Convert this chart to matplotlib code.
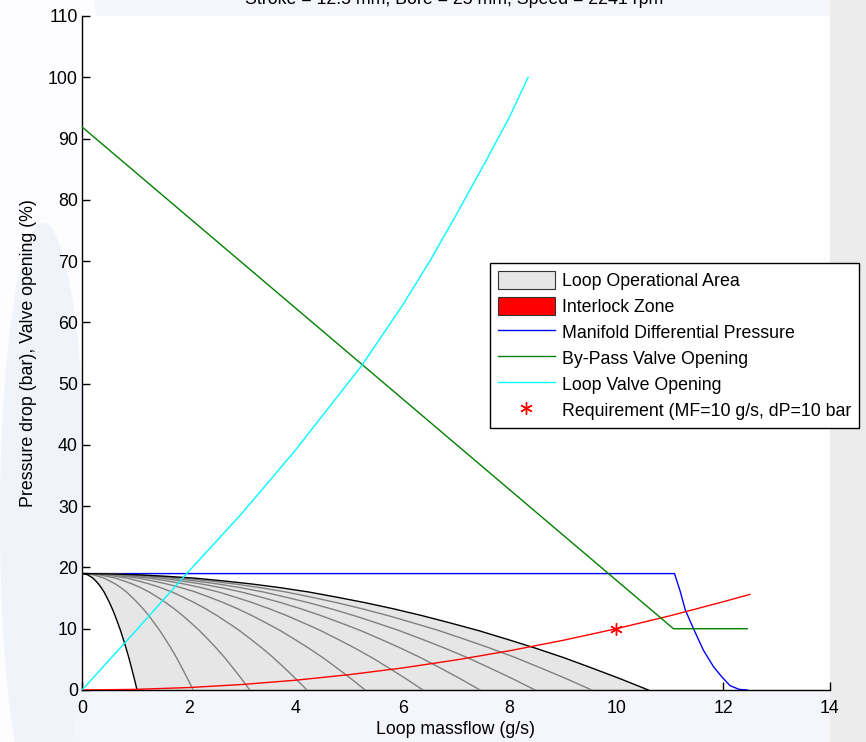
import numpy as np
import matplotlib
matplotlib.use("Agg")
from matplotlib import pyplot as plt
from matplotlib.patches import Patch, Rectangle, Ellipse
from matplotlib.lines import Line2D

plt.rcParams['font.family'] = ['Liberation Sans', 'DejaVu Sans']

# Data
# loop curves: massflow where each loop curve reaches dp = 0 (g/s)
loop_ends = [1.03, 2.08, 3.14, 4.21, 5.30, 6.38, 7.45, 8.48, 9.54, 10.6]
# shape of the outer loop curve (fraction of end massflow -> dp in bar)
shape_frac = [0, 0.05, 0.1, 0.15, 0.2, 0.25, 0.3, 0.35, 0.4, 0.45, 0.5,
              0.55, 0.6, 0.65, 0.7, 0.75, 0.8, 0.85, 0.9, 0.95, 1.0]
shape_dp = [19.0, 18.95, 18.8, 18.55, 18.25, 17.8, 17.3, 16.7, 16.0, 15.15, 14.25,
            13.25, 12.15, 10.95, 9.7, 8.3, 6.85, 5.3, 3.6, 1.85, 0.0]

# manifold differential pressure
mdp_x = [0, 11.09, 11.2, 11.29, 11.44, 11.63, 11.82, 11.97, 12.13, 12.3, 12.45]
mdp_y = [19.0, 19.0, 16.0, 13.1, 10.1, 6.5, 3.8, 2.2, 0.7, 0.1, 0.0]

# by-pass valve opening
bp_x = [0, 11.07, 12.45]
bp_y = [91.9, 10.0, 10.0]

# loop valve opening
lv_x = [0, 1.0, 1.96, 3.0, 4.0, 5.24, 6.0, 6.51, 7.0, 7.57, 8.0, 8.35]
lv_y = [0, 9.6, 19.0, 28.9, 39.2, 53.0, 62.8, 70.0, 77.5, 86.5, 93.5, 100.0]

# interlock zone boundary
il_x = [0, 1, 2, 3, 4, 5, 6, 7, 8, 9, 10, 11, 12, 12.5]
il_y = [0, 0.1, 0.4, 0.9, 1.6, 2.5, 3.6, 4.9, 6.4, 8.1, 10.0, 12.1, 14.4, 15.6]

# requirement
req_x = [10]
req_y = [10]

title = "Stroke = 12.5 mm, Bore = 25 mm, Speed = 2241 rpm"

W, H = 866, 742
FS = 12.8
fig = plt.figure(figsize=(W / 100, H / 100), dpi=100, facecolor='#f5f6fc')

# faint background decoration
fig.patches.append(Ellipse((0.03, 0.6), 0.2, 1.3, transform=fig.transFigure,
                           facecolor='#fdfdff', edgecolor='none', zorder=-5))
fig.patches.append(Ellipse((0.05, 0.3), 0.1, 0.8, transform=fig.transFigure,
                           facecolor='#f1f3fb', edgecolor='none', zorder=-4))
fig.patches.append(Rectangle((830 / W, 0), 36 / W, 1, transform=fig.transFigure,
                             facecolor='#ececec', edgecolor='none', zorder=-3))

ax = fig.add_axes([82 / W, 52 / H, 748 / W, 674 / H])
ax.set_facecolor('white')

# loop operational area
sf = np.array(shape_frac)
sd = np.array(shape_dp)
outer_x = sf * loop_ends[-1]
inner_x = sf * loop_ends[0]
poly_x = np.concatenate([outer_x, inner_x[::-1]])
poly_y = np.concatenate([sd, sd[::-1]])
ax.fill(poly_x, poly_y, facecolor='#e6e6e6', edgecolor='none', zorder=1)

ax.plot(mdp_x, mdp_y, color='#0000ff', lw=1.0, zorder=2)

for e in loop_ends[1:-1]:
    ax.plot(sf * e, sd, color='#808080', lw=1.0, zorder=3)
ax.plot(inner_x, sd, color='black', lw=1.0, zorder=3)
ax.plot(outer_x, sd, color='black', lw=1.0, zorder=3)

ax.plot(il_x, il_y, color='#ff0000', lw=1.0, zorder=4)
ax.plot(bp_x, bp_y, color='#008000', lw=1.0, zorder=4)
ax.plot(lv_x, lv_y, color='#00ffff', lw=1.0, zorder=4)
ax.plot(req_x, req_y, linestyle='none', marker=(6, 2, 0), markersize=9,
        color='#ff0000', markeredgewidth=1.0, zorder=5)

ax.set_xlim(0, 14)
ax.set_ylim(0, 110)
ax.set_xticks(np.arange(0, 15, 2))
ax.set_yticks(np.arange(0, 111, 10))
ax.spines['top'].set_visible(False)
ax.spines['right'].set_visible(False)
ax.spines['left'].set_linewidth(1.0)
ax.spines['bottom'].set_linewidth(1.0)
ax.tick_params(direction='in', length=6, width=1.0, labelsize=FS)
ax.tick_params(axis='x', pad=7)
ax.tick_params(axis='y', pad=3)
ax.set_axisbelow(True)
ax.set_xlabel("Loop massflow (g/s)", fontsize=FS, labelpad=3)
ax.set_ylabel("Pressure drop (bar), Valve opening (%)", fontsize=FS, labelpad=8)

fig.text(454 / W, 1 - 3.5 / H, title, ha='center', va='baseline', fontsize=FS)

handles = [
    Patch(facecolor='#e6e6e6', edgecolor='#333333', lw=0.8),
    Patch(facecolor='#ff0000', edgecolor='#333333', lw=0.8),
    Line2D([], [], color='#0000ff', lw=1.0),
    Line2D([], [], color='#008000', lw=1.0),
    Line2D([], [], color='#00ffff', lw=1.0),
    Line2D([], [], linestyle='none', marker=(6, 2, 0), markersize=9,
           color='#ff0000', markeredgewidth=1.0),
]
labels = ["Loop Operational Area", "Interlock Zone", "Manifold Differential Pressure",
          "By-Pass Valve Opening", "Loop Valve Opening",
          "Requirement (MF=10 g/s, dP=10 bar"]
leg = fig.legend(handles, labels, loc='upper left',
                 bbox_to_anchor=(490 / W, 1 - 263 / H), borderaxespad=0,
                 fontsize=FS, frameon=True, fancybox=False, framealpha=1,
                 edgecolor='black', handlelength=3.2, handleheight=1.15,
                 handletextpad=0.4, labelspacing=0.4, borderpad=0.45,
                 numpoints=1)
leg.get_frame().set_linewidth(1.0)

fig.savefig("out.png", dpi=100, facecolor=fig.get_facecolor())
